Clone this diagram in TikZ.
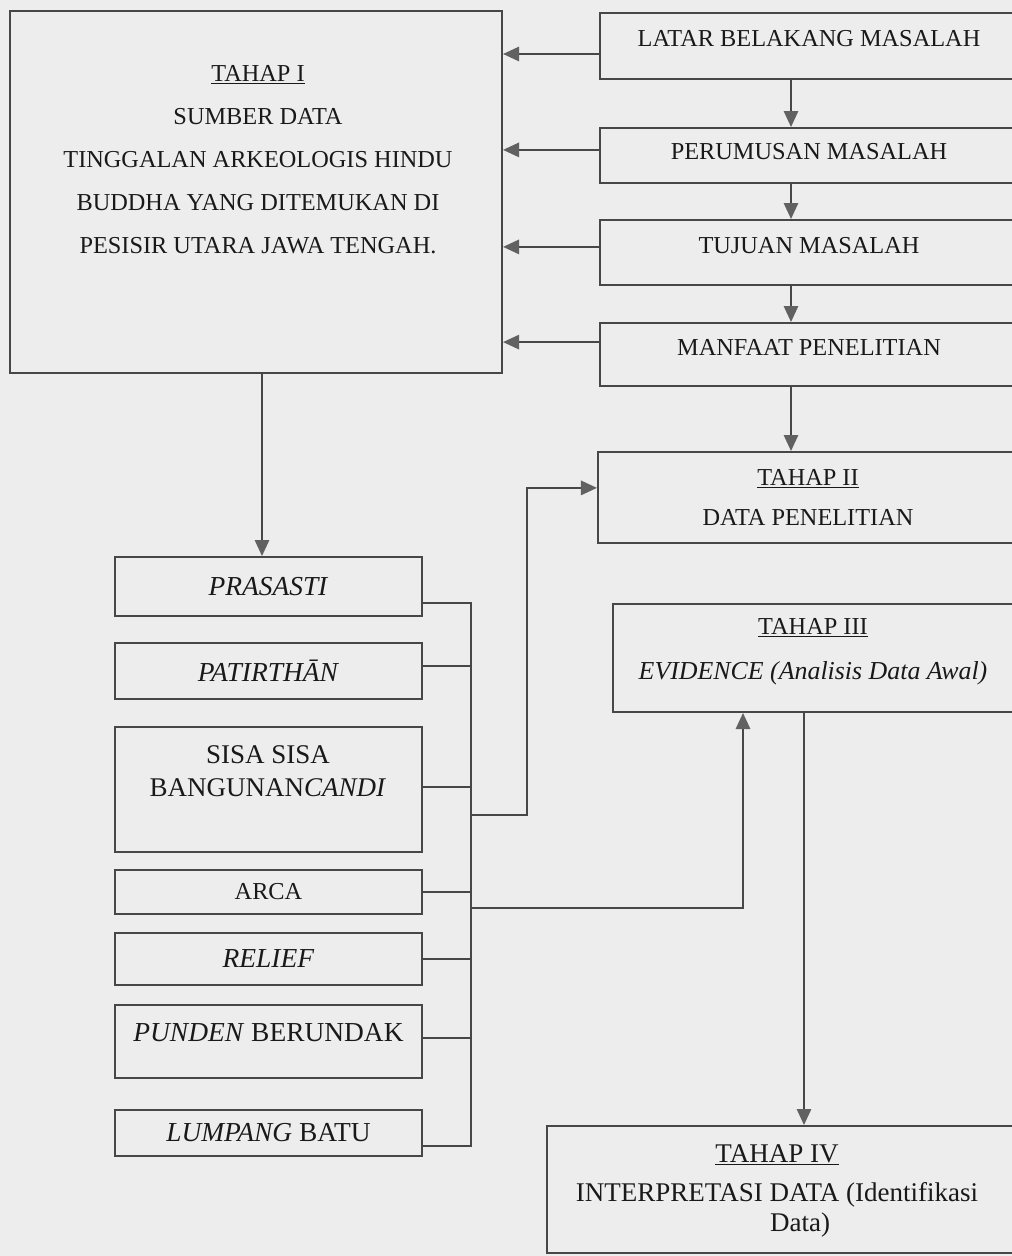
\documentclass[tikz,border=0pt]{standalone}
\usepackage{fontspec}
\setmainfont{Liberation Serif}
\usetikzlibrary{arrows.meta}

\tikzset{
  kotak/.style={draw=black!72, line width=1.4pt, inner sep=0pt, align=center, text=black!90},
  teks/.style={align=center, text=black!90, inner sep=0pt},
  besar/.style={font=\fontsize{19.5}{24}\selectfont},
  panah/.style={draw=black!72, line width=1.2pt, -{Triangle[length=0.4cm,width=0.36cm,color=black!62]}},
  garis/.style={draw=black!72, line width=1.2pt}
}

\begin{document}
\begin{tikzpicture}[x=0.025cm, y=-0.025cm, font=\fontsize{17.3}{22}\selectfont] %Satuan: 1 piksel
\useasboundingbox (0,0) rectangle (1012,1256); %Batas gambar
\fill[black!7] (0,0) rectangle (1012,1256); %Warna kertas
\clip (0,0) rectangle (1012,1256);
	%Tahap I
\node[kotak, minimum width=12.3cm, minimum height=9.05cm] (tahapI) at (256,192) {};
\node[teks] (tahapIteks) at (258,160) {\underline{TAHAP I}\\[8.6pt] SUMBER DATA\\[8.6pt] TINGGALAN ARKEOLOGIS HINDU\\[8.6pt] BUDDHA YANG DITEMUKAN DI\\[8.6pt] PESISIR UTARA JAWA TENGAH.};
	%Kolom kanan
\node[kotak, minimum width=10.45cm, minimum height=1.65cm, text depth=0.4cm] (latar) at (809,46) {LATAR BELAKANG MASALAH};
\node[kotak, minimum width=10.45cm, minimum height=1.375cm, text depth=0.18cm] (perumusan) at (809,155.5) {PERUMUSAN MASALAH};
\node[kotak, minimum width=10.45cm, minimum height=1.625cm, text depth=0.35cm] (tujuan) at (809,252.5) {TUJUAN MASALAH};
\node[kotak, minimum width=10.45cm, minimum height=1.575cm, text depth=0.35cm] (manfaat) at (809,354.5) {MANFAAT PENELITIAN};
\node[kotak, minimum width=10.5cm, minimum height=2.275cm] (tahapII) at (808,497.5) {\underline{TAHAP II}\\[6.5pt] DATA PENELITIAN};
\node[kotak, minimum width=10.175cm, minimum height=2.7cm] (tahapIII) at (816.5,658) {};
\node[teks] (tahapIIIteks) at (813,652) {\underline{TAHAP III}\\[10pt] \fontsize{18.4}{22}\selectfont\textit{EVIDENCE (Analisis Data Awal)}};
\node[kotak, minimum width=12.65cm, minimum height=3.175cm] (tahapIV) at (800,1189.5) {};
\node[teks, font=\fontsize{19.2}{22}\selectfont] (tahapIVteks) at (777,1191) {\underline{TAHAP IV}\\[5.7pt] INTERPRETASI DATA (Identifikasi\\ \hspace*{1.15cm}Data)};
	%Jenis tinggalan
\node[kotak, besar, minimum width=7.675cm, minimum height=1.475cm] (prasasti) at (268.5,586.5) {\textit{PRASASTI}};
\node[kotak, besar, minimum width=7.675cm, minimum height=1.4cm] (patirthan) at (268.5,671) {\textit{PATIRTHĀN}};
\node[kotak, minimum width=7.675cm, minimum height=3.125cm] (sisa) at (268.5,789.5) {};
\node[teks, font=\fontsize{19.2}{22}\selectfont] (sisateks) at (268,771.5) {SISA SISA\\[1.4pt] BANGUNAN\textit{CANDI}};
\node[kotak, minimum width=7.675cm, minimum height=1.1cm] (arca) at (268.5,892) {ARCA};
\node[kotak, besar, minimum width=7.675cm, minimum height=1.3cm] (relief) at (268.5,959) {\textit{RELIEF}};
\node[kotak, besar, minimum width=7.675cm, minimum height=1.825cm, text depth=0.45cm] (punden) at (268.5,1041.5) {\textit{PUNDEN} BERUNDAK};
\node[kotak, besar, minimum width=7.675cm, minimum height=1.15cm] (lumpang) at (268.5,1133) {\textit{LUMPANG} BATU};
	%Titik bantu
\coordinate (kolKiri) at (262,0);
\coordinate (kolKanan) at (791,0);
\coordinate (kolBawah) at (804,0);
\coordinate (rel) at (471,0);
\coordinate (belok2) at (527,815);
\coordinate (belok3) at (743,908);
	%Panah
\draw[panah] (tahapI.south -| kolKiri) -- (prasasti.north -| kolKiri); %Tahap I ke tinggalan
\foreach \a/\b in {latar/perumusan, perumusan/tujuan, tujuan/manfaat, manfaat/tahapII}
	\draw[panah] (\a.south -| kolKanan) -- (\b.north -| kolKanan);
\foreach \a/\s in {latar/-0.2, perumusan/0.14, tujuan/0.14, manfaat/0.31}
	\draw[panah] ([yshift=\s cm]\a.west) -- ([yshift=\s cm]\a.west -| tahapI.east);
\draw[garis] ([yshift=-0.41cm]prasasti.east) -| ([yshift=-0.32cm]lumpang.east -| rel) -- ([yshift=-0.32cm]lumpang.east); %Garis penghubung
\foreach \n/\s in {patirthan/0.12, sisa/0.06, arca/0, relief/0, punden/0.09}
	\draw[garis] ([yshift=\s cm]\n.east) -- ([yshift=\s cm]\n.east -| rel);
\draw[panah] (belok2 -| rel) -- (belok2) |- ([yshift=0.24cm]tahapII.west); %Ke Tahap II
\draw[panah] (belok3 -| rel) -- (belok3) -- (belok3 |- tahapIII.south); %Ke Tahap III
\draw[panah] (tahapIII.south -| kolBawah) -- (tahapIV.north -| kolBawah); %Ke Tahap IV
\end{tikzpicture}
\end{document}
